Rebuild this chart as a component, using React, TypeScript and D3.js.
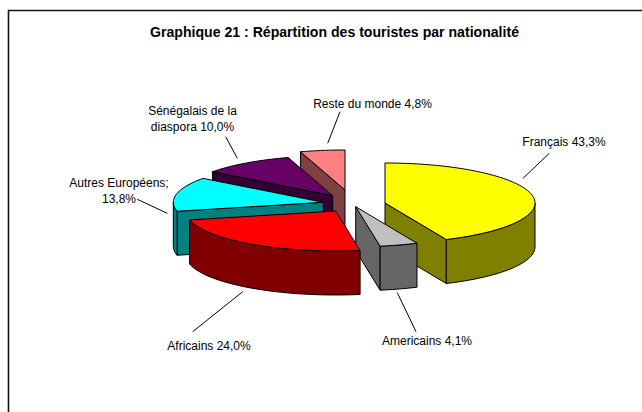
import React from "react";
import * as d3 from "d3";

// Data
const categories = ["Français", "Americains", "Africains", "Autres Européens", "Sénégalais de la diaspora", "Reste du monde"];
const shares = [43.3, 4.1, 24.0, 13.8, 10.0, 4.8];
const topColors = ["#FFFF00", "#C0C0C0", "#FF0000", "#00FFFF", "#660066", "#FF8080"];
const sideColors = ["#808000", "#666666", "#800000", "#008080", "#330033", "#804040"];
const title = "Graphique 21 : Répartition des touristes par nationalité";

// Layout of the exploded 3D pie
const WIDTH = 642, HEIGHT = 412;
const RX = 150, RY = 40, DEPTH = 44;
const centerX = 350, centerY = 203;
const explodeX = [35, 5.7, -14.3, -26.7, -17.3, -5];
const explodeY = [0, 3.7, 8, -0.7, -7.3, -13];
const paintOrder = [5, 4, 3, 0, 1, 2];

const labels = [
  { lines: ["Français 43,3%"], x: 564, y: 146, leader: [549.3, 153.3, 523, 178.3] },
  { lines: ["Americains 4,1%"], x: 427, y: 345, leader: [397.3, 292.7, 416, 331.7] },
  { lines: ["Africains 24,0%"], x: 209, y: 350, leader: [242.7, 291.7, 192.7, 331.7] },
  { lines: ["Autres Européens;", "13,8%"], x: 119, y: 187, leader: [137.3, 199.3, 167.3, 213.3] },
  { lines: ["Sénégalais de la", "diaspora 10,0%"], x: 192.5, y: 115, leader: [225.7, 136.7, 237.3, 158.3] },
  { lines: ["Reste du monde 4,8%"], x: 372.5, y: 108, leader: [340, 111.7, 327.7, 143.3] },
];

const FONT = "'Liberation Sans', Arial, sans-serif";

const unitX = d3.scaleLinear().domain([-1, 1]).range([-RX, RX]);
const unitY = d3.scaleLinear().domain([-1, 1]).range([-RY, RY]);
const line = d3.line<[number, number]>().x((d) => d[0]).y((d) => d[1]);

function rim(a0: number, a1: number): [number, number][] {
  const steps = Math.max(2, Math.ceil(Math.abs(a1 - a0) / 0.03));
  return d3.range(steps + 1).map((i) => {
    const a = a0 + ((a1 - a0) * i) / steps;
    return [unitX(Math.sin(a)), unitY(-Math.cos(a))] as [number, number];
  });
}

function drop(points: [number, number][]): [number, number][] {
  return points.map(([x, y]) => [x, y + DEPTH] as [number, number]);
}

export default function App() {
  const arcs = d3
    .pie<number>()
    .sort(null)
    .startAngle(0)
    .endAngle(2 * Math.PI)(shares);

  const slices = paintOrder.map((i) => {
    const { startAngle: a0, endAngle: a1 } = arcs[i];
    const tx = centerX + explodeX[i];
    const ty = centerY + explodeY[i];
    const top = rim(a0, a1);
    const apex: [number, number] = [0, 0];
    const faces: string[] = [];

    // A cut face is visible when its outward normal points to the viewer.
    if (Math.sin(a0) < 0) {
      const edge: [number, number][] = [apex, top[0]];
      faces.push(line([...edge, ...drop(edge).reverse()])! + "Z");
    }
    if (Math.sin(a1) > 0) {
      const edge: [number, number][] = [apex, top[top.length - 1]];
      faces.push(line([...edge, ...drop(edge).reverse()])! + "Z");
    }
    // Outer wall: the front half of the rim only.
    const w0 = Math.max(a0, Math.PI / 2);
    const w1 = Math.min(a1, (3 * Math.PI) / 2);
    if (w1 > w0) {
      const wall = rim(w0, w1);
      faces.push(line([...wall, ...drop(wall).reverse()])! + "Z");
    }
    const topPath = line([apex, ...top])! + "Z";
    return (
      <g key={categories[i]} transform={`translate(${tx},${ty})`} stroke="#000" strokeWidth={1} strokeLinejoin="round">
        {faces.map((d, k) => (
          <path key={k} d={d} fill={sideColors[i]} />
        ))}
        <path d={topPath} fill={topColors[i]} />
      </g>
    );
  });

  return (
    <svg
      width={WIDTH}
      height={HEIGHT}
      viewBox={`0 0 ${WIDTH} ${HEIGHT}`}
      style={{ position: "absolute", left: 0, top: 0, background: "#fff" }}
      fontFamily={FONT}
    >
      <path d={`M8.5,${HEIGHT}V10.5H${WIDTH}`} fill="none" stroke="#111" strokeWidth={1.6} />
      <text x={334.5} y={37} textAnchor="middle" fontSize={14} fontWeight="bold" fill="#000" textLength={369} lengthAdjust="spacingAndGlyphs">
        {title}
      </text>
      {slices}
      {labels.map((l) => (
        <g key={l.lines[0]}>
          <line x1={l.leader[0]} y1={l.leader[1]} x2={l.leader[2]} y2={l.leader[3]} stroke="#000" strokeWidth={1} />
          {l.lines.map((t, k) => (
            <text key={t} x={l.x} y={l.y + k * 16} textAnchor="middle" fontSize={12} fill="#000">
              {t}
            </text>
          ))}
        </g>
      ))}
    </svg>
  );
}
